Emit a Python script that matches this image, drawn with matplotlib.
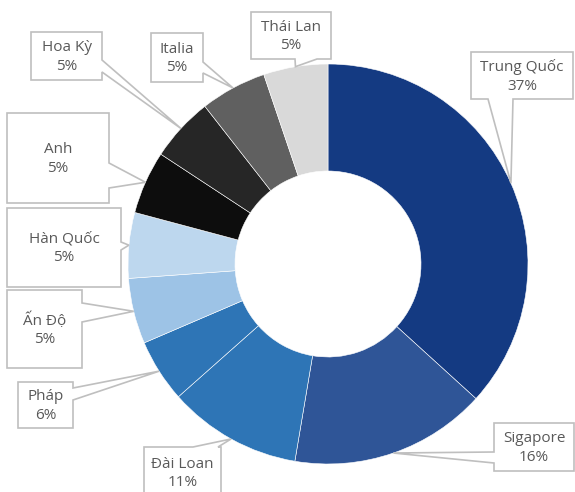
import numpy as np
import matplotlib
matplotlib.use("Agg")
import matplotlib.pyplot as plt
from matplotlib.patches import Polygon

plt.rcParams['font.family'] = ['Open Sans', 'DejaVu Sans']

# share of each country, label text from the picture
countries = ["Trung Quốc", "Sigapore", "Đài Loan", "Pháp", "Ấn Độ",
             "Hàn Quốc", "Anh", "Hoa Kỳ", "Italia", "Thái Lan"]
shares = [36.75, 15.9, 10.8, 5.1, 5.3, 5.3, 5.1, 5.2, 5.35, 5.2]
pct_labels = ["37%", "16%", "11%", "6%", "5%", "5%", "5%", "5%", "5%", "5%"]

colors = ["#143a82", "#2f5597", "#2e75b6", "#2e75b6", "#9dc3e6",
          "#bdd7ee", "#0d0d0d", "#262626", "#606060", "#d9d9d9"]

# callout boxes in pixel coords: x0, y0, x1, y1, side of pointer, pointer base a, b
boxes = [
    (471, 52, 573, 99, 'bottom', 488, 513),
    (494, 423, 574, 471, 'left', 452, 463),
    (144, 447, 221, 498, 'top', 193, 218),
    (18, 382, 73, 428, 'right', 388, 400),
    (7, 290, 82, 368, 'right', 303, 322),
    (7, 208, 121, 287, 'right', 242, 250),
    (7, 113, 109, 203, 'right', 163, 188),
    (31, 32, 102, 80, 'right', 60, 72),
    (151, 33, 203, 82, 'right', 62, 73),
    (251, 12, 331, 59, 'bottom', 295, 317),
]

W, H = 575, 492
cx, cy, R = 328, 264, 200

fig = plt.figure(figsize=(W / 100, H / 100), dpi=100)
ax = fig.add_axes([0, 0, 1, 1])

# y axis is flipped below, so counterclock in data is clockwise on screen
wedges, _ = ax.pie(shares, colors=colors, startangle=-90, counterclock=True,
                   center=(cx, cy), radius=R,
                   wedgeprops=dict(width=R * 0.535, edgecolor="white", linewidth=0.4))


def callout(x0, y0, x1, y1, side, a, b, anchor):
    pts = [(x0, y0)]
    if side == 'top':
        pts += [(a, y0), anchor, (b, y0)]
    pts.append((x1, y0))
    if side == 'right':
        pts += [(x1, a), anchor, (x1, b)]
    pts.append((x1, y1))
    if side == 'bottom':
        pts += [(b, y1), anchor, (a, y1)]
    pts.append((x0, y1))
    if side == 'left':
        pts += [(x0, b), anchor, (x0, a)]
    return pts


for w, name, pct, box in zip(wedges, countries, pct_labels, boxes):
    mid = np.deg2rad((w.theta1 + w.theta2) / 2)
    anchor = (cx + R * np.cos(mid), cy + R * np.sin(mid))
    x0, y0, x1, y1, side, a, b = box
    poly = Polygon(callout(x0, y0, x1, y1, side, a, b, anchor), closed=True,
                   facecolor="white", edgecolor="#bfbfbf", linewidth=1.2, zorder=3)
    ax.add_patch(poly)
    ax.text((x0 + x1) / 2, (y0 + y1) / 2 + 1, f"{name}\n{pct}", ha="center", va="center",
            fontsize=11, color="#595959", linespacing=1.3, zorder=4)

ax.set_xlim(0, W)
ax.set_ylim(H, 0)
ax.set_aspect('equal')
ax.axis('off')

fig.savefig("out.png", dpi=100, facecolor="white")
